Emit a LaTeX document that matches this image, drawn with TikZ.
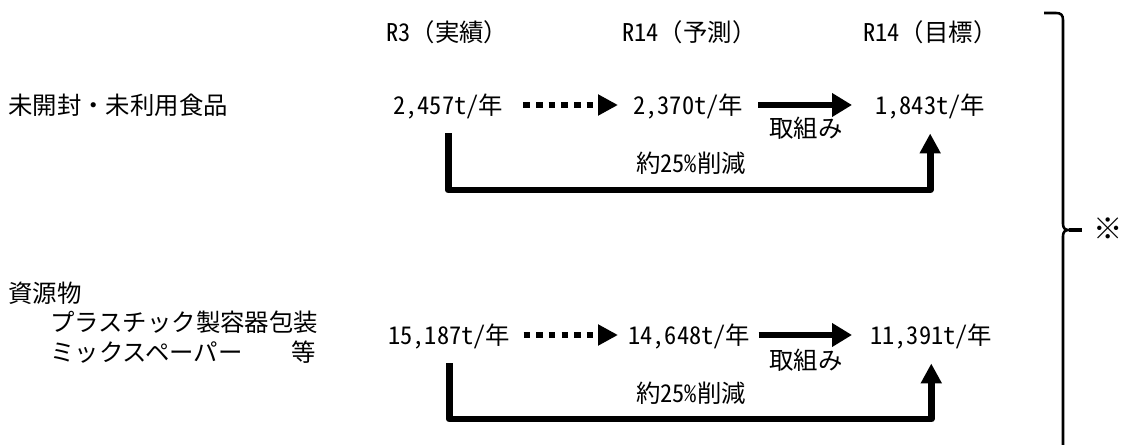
\documentclass[tikz,border=0pt]{standalone}
\usepackage{fontspec}
\setmainfont{Noto Sans CJK JP}
\newfontfamily\hw{Noto Sans CJK JP}[CharacterWidth=Half]
\usetikzlibrary{arrows.meta}
\tikzset{
  txt/.style={inner sep=0pt, anchor=west, font=\fontsize{18.3pt}{22pt}\selectfont, text height=16.1pt, text depth=2.2pt},
  ctxt/.style={txt, anchor=center},
  bar/.style={line width=5.2pt, line join=round, -{Triangle[length=15pt,width=15pt]}},
  dotarrow/.style={line width=4.9pt, dash pattern=on 4.9pt off 4.6pt, -{Triangle[length=15pt,width=15pt]}},
  solidarrow/.style={line width=5.2pt, -{Triangle[length=15pt,width=17pt]}},
  bracestyle/.style={line width=1.9pt},
  bracetip/.style={line width=2.6pt},
}
\begin{document}
\begin{tikzpicture}[x=0.75pt,y=-0.75pt]
\path[use as bounding box, fill=white] (0,0) rectangle (1121,445);

% headers
\node[txt] (h1) at (386,32) {{\hw R3}（実績）};
\node[txt] (h2) at (622,32) {{\hw R14}（予測）};
\node[txt] (h3) at (863,32) {{\hw R14}（目標）};

% left labels
\node[txt] (lab1) at (8,105) {未開封・未利用食品};
\node[txt] (lab2) at (8,293) {資源物};
\node[txt] (lab2a) at (50,322) {プラスチック製容器包装};
\node[txt] (lab2b) at (50,352) {ミックスペーパー　　等};

% row 1 values
\node[txt] (v11) at (393,105) {{\hw 2,457t/}年};
\node[txt] (v12) at (633,105) {{\hw 2,370t/}年};
\node[txt] (v13) at (875,105) {{\hw 1,843t/}年};
\node[ctxt] (t1) at (806,128) {取組み};
\node[ctxt] (r1) at (691,163) {約{\hw 25\%}削減};
\coordinate (b1) at (691,190);

\draw[dotarrow, shorten <=15pt, shorten >=11.25pt] (v11.east) -- (v12.west);
\draw[solidarrow, shorten <=11.25pt, shorten >=17.25pt] (v12.east) -- (v13.west);
\draw[bar, shorten <=12pt, shorten >=12pt] (v11.south) |- (b1) -| (v13.south);

% row 2 values
\node[txt] (v21) at (388,335) {{\hw 15,187t/}年};
\node[txt] (v22) at (628,335) {{\hw 14,648t/}年};
\node[txt] (v23) at (870,335) {{\hw 11,391t/}年};
\node[ctxt] (t2) at (806,360) {取組み};
\node[ctxt] (r2) at (691,393) {約{\hw 25\%}削減};
\coordinate (b2) at (691,419);

\draw[dotarrow, shorten <=9.75pt, shorten >=7.5pt] (v21.east) -- (v22.west);
\draw[solidarrow, shorten <=6pt, shorten >=13.5pt] (v22.east) -- (v23.west);
\draw[bar, shorten <=12pt, shorten >=12pt] (v21.south) |- (b2) -| (v23.south);

% brace
\node[ctxt, font=\fontsize{22pt}{24pt}\selectfont] (note) at (1108,230) {※};
\coordinate (bt) at (1069,230);
\draw[bracestyle] (1044,13) -- (1056,13) .. controls (1061,13) and (1063,15) .. (1063,20)
  -- (1063,224) .. controls (1063,228) and (1065,230) .. (bt)
  .. controls (1065,230) and (1063,232) .. (1063,236) -- (1063,445);
\draw[bracetip, shorten >=8pt] (bt) -- (note.west);
\end{tikzpicture}
\end{document}
